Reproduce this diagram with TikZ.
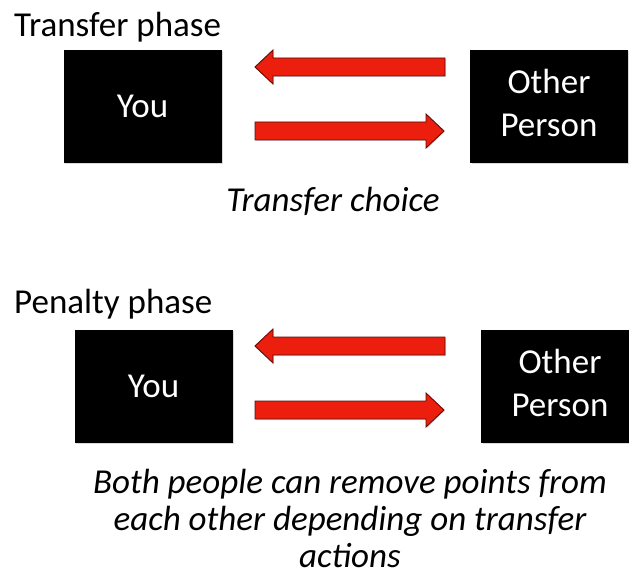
\documentclass[tikz,border=0pt]{standalone}
\usepackage{fontspec}
\setmainfont{Carlito}
\usetikzlibrary{calc, shadows}
\definecolor{arrowred}{RGB}{236,30,14}
\definecolor{arrowedge}{RGB}{95,12,6}

\begin{document}
\begin{tikzpicture}[x=1pt, y=-1pt,
    player/.style={rectangle, fill=black, text=white, inner sep=0pt, align=center,
        minimum width=158pt, minimum height=113pt, font=\fontsize{35}{43}\selectfont,
        drop shadow={shadow xshift=1.5pt, shadow yshift=-1.5pt, opacity=.3}},
    phase/.style={anchor=base west, inner sep=0pt, font=\fontsize{35}{40}\selectfont},
    caption/.style={anchor=base, inner sep=0pt, align=center, font=\fontsize{35}{37}\selectfont\itshape},
    fatarrow/.style={fill=arrowred, draw=arrowedge, line width=0.9pt, line join=miter,
        drop shadow={shadow xshift=1pt, shadow yshift=-1pt, opacity=.25}}]
    \useasboundingbox (0,0) rectangle (629,577);
        % transfer phase
        \node[phase] (phase1) at (14,37) {Transfer phase};
        \node[player] (you1) at (142.5,106.5) {You};
        \node[player] (other1) at (549,106.5) {\raisebox{-4pt}{\begin{tabular}{@{}c@{}}Other\\Person\end{tabular}}};
        \node[caption] (choice) at (333,212) {Transfer choice};
        \coordinate (a1tip) at (255,67);
        \coordinate (a1tail) at (445,67);
        \coordinate (a2tail) at (255,131);
        \coordinate (a2tip) at (444,131);
        % penalty phase
        \node[phase] (phase2) at (14,313) {Penalty phase};
        \node[player] (you2) at (153.5,386) {You};
        \node[player] (other2) at (560,386) {\raisebox{-4pt}{\begin{tabular}{@{}c@{}}Other\\Person\end{tabular}}};
        \node[caption] (effect) at (350,567) {Both people can remove points from\\each other depending on transfer\\actions};
        \coordinate (a3tip) at (255,346);
        \coordinate (a3tail) at (445,346);
        \coordinate (a4tail) at (255,410);
        \coordinate (a4tip) at (444,410);
        % block arrows
        \foreach \tip/\tail/\s in {a1tip/a1tail/1, a2tip/a2tail/-1, a3tip/a3tail/1, a4tip/a4tail/-1}
            \draw[fatarrow] (\tip) -- ++(\s*18,-17) -- ++(0,8) -- ($(\tail)+(0,-9)$) -- ++(0,18)
                -- ($(\tip)+(\s*18,9)$) -- ++(0,8) -- cycle;
    \end{tikzpicture}
\end{document}
